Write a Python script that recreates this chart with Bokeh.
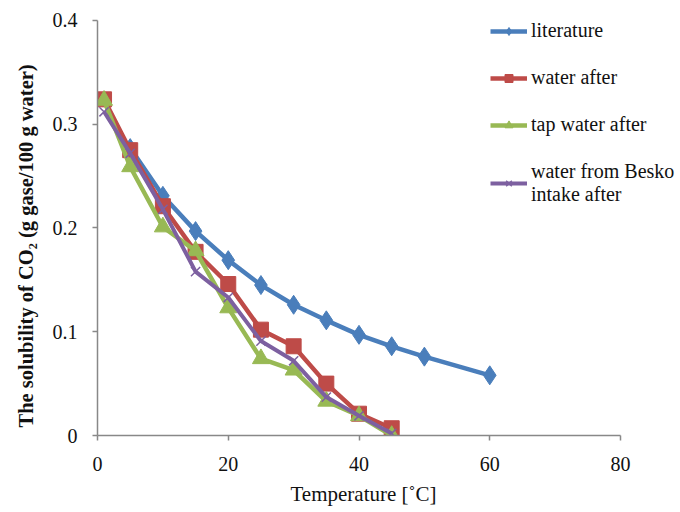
from bokeh.plotting import figure
from bokeh.embed import file_html
from bokeh.resources import INLINE
from bokeh.models import Legend, LegendItem, FixedTicker, NumeralTickFormatter, Range1d, Title

# Data
lit_x = [5, 10, 15, 20, 25, 30, 35, 40, 45, 50, 60]
lit_y = [0.277, 0.231, 0.197, 0.169, 0.145, 0.126, 0.111, 0.097, 0.086, 0.076, 0.058]

temp_x = [1, 5, 10, 15, 20, 25, 30, 35, 40, 45]
water_y = [0.324, 0.275, 0.221, 0.177, 0.146, 0.102, 0.086, 0.050, 0.021, 0.007]
tap_y = [0.323, 0.259, 0.201, 0.178, 0.123, 0.074, 0.063, 0.033, 0.019, 0.000]
besko_y = [0.312, 0.272, 0.218, 0.158, 0.133, 0.091, 0.072, 0.037, 0.019, 0.002]

x_ticks = [0, 20, 40, 60, 80]
y_ticks = [0, 0.1, 0.2, 0.3, 0.4]

BLUE = "#4A7EBB"
RED = "#BE4B48"
GREEN = "#98B954"
PURPLE = "#7D60A0"
FONT = "Liberation Serif"

# frame spans the full right side so the legend can overflow past x=80;
# the axis line itself is bounded to 0..80
X_END = 80 * 583 / 523
Y_END = 0.4 + 6 / 1040

p = figure(width=680, height=512, output_backend="svg", toolbar_location=None,
           x_range=Range1d(0, X_END), y_range=Range1d(0, Y_END),
           min_border_left=97, min_border_right=0, min_border_top=14, min_border_bottom=77)
p.outline_line_color = None
p.xgrid.visible = False
p.ygrid.visible = False

for ax in (p.xaxis[0], p.yaxis[0]):
    ax.axis_line_color = "#888888"
    ax.axis_line_width = 1.5
    ax.major_tick_line_color = "#888888"
    ax.major_tick_line_width = 1.5
    ax.major_tick_in = 0
    ax.major_tick_out = 5
    ax.minor_tick_line_color = None
    ax.major_label_text_font = FONT
    ax.major_label_text_font_size = "20px"
    ax.major_label_text_color = "#111111"

p.xaxis[0].bounds = (0, 80)
p.yaxis[0].bounds = (0, 0.4)
p.xaxis[0].ticker = FixedTicker(ticks=x_ticks)
p.yaxis[0].ticker = FixedTicker(ticks=y_ticks)
p.yaxis[0].formatter = NumeralTickFormatter(format="0.[0]")
p.xaxis[0].major_label_standoff = 16
p.yaxis[0].major_label_standoff = 15

ytitle = Title(text="The solubility of CO₂ (g gase/100 g water)", align="left", offset=8,
               text_font=FONT, text_font_size="20.5px", text_font_style="bold",
               text_color="#111111", standoff=22, vertical_align="top")
p.add_layout(ytitle, "left")

xtitle = Title(text="Temperature [˚C]", align="left", offset=193,
               text_font=FONT, text_font_size="21px", text_font_style="normal",
               text_color="#111111", standoff=12)
p.add_layout(xtitle, "below")

l1 = p.line(lit_x, lit_y, line_color=BLUE, line_width=4.5)
s1 = p.scatter(lit_x, lit_y, marker="diamond", size=19, fill_color=BLUE, line_color=BLUE)
l2 = p.line(temp_x, water_y, line_color=RED, line_width=4.5)
s2 = p.scatter(temp_x, water_y, marker="square", size=15, fill_color=RED, line_color=RED)
l3 = p.line(temp_x, tap_y, line_color=GREEN, line_width=4.5)
s3 = p.scatter(temp_x, tap_y, marker="triangle", size=17, fill_color=GREEN, line_color=GREEN)
l4 = p.line(temp_x, besko_y, line_color=PURPLE, line_width=4)
s4 = p.scatter(temp_x, besko_y, marker="x", size=13, line_color=PURPLE, line_width=1.5)

legend = Legend(items=[
    LegendItem(label="literature", renderers=[l1, s1]),
    LegendItem(label="water after", renderers=[l2, s2]),
    LegendItem(label="tap water after", renderers=[l3, s3]),
    LegendItem(label="water from Besko\nintake after", renderers=[l4, s4]),
], location=(393, 229),
    label_text_font=FONT, label_text_font_size="20px", label_text_color="#111111",
    border_line_color=None, background_fill_alpha=0,
    glyph_width=37, glyph_height=20, label_standoff=4, spacing=24, padding=0, margin=0)
p.add_layout(legend, "center")

open("out.html", "w").write(file_html(p, INLINE))
